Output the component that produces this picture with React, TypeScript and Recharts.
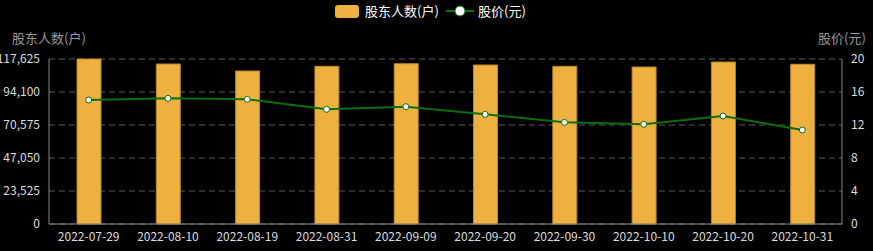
import {
  ComposedChart,
  Bar,
  Line,
  XAxis,
  YAxis,
  CartesianGrid,
} from 'recharts'

const dates = [
  '2022-07-29',
  '2022-08-10',
  '2022-08-19',
  '2022-08-31',
  '2022-09-09',
  '2022-09-20',
  '2022-09-30',
  '2022-10-10',
  '2022-10-20',
  '2022-10-31',
]
const holders = [117625, 114060, 109070, 112420, 114280, 113350, 112420, 111920, 115490, 113850]
const prices = [15.03, 15.23, 15.11, 13.9, 14.22, 13.29, 12.32, 12.08, 13.09, 11.39]
const leftTicks = [0, 23525, 47050, 70575, 94100, 117625]
const rightTicks = [0, 4, 8, 12, 16, 20]

const FONT = '"Noto Sans CJK SC", "DejaVu Sans", sans-serif'
const BAR_COLOR = '#eeb03f'
const LINE_COLOR = '#0d6e0d'

const chartData = dates.map((date, i) => ({
  date,
  holders: holders[i],
  price: prices[i],
}))

const tickStyle = { fill: '#dddddd', fontSize: 12, fontFamily: FONT }

export default function App() {
  return (
    <div style={{ position: 'relative', width: 873, height: 251, background: '#000', fontFamily: FONT }}>
      <style>{'body{margin:0;background:#000}'}</style>

      {/* legend */}
      <div style={{ position: 'absolute', left: 335, top: 5, width: 24, height: 13, background: BAR_COLOR, borderRadius: 3 }} />
      <div style={{ position: 'absolute', left: 365, top: 2, fontSize: 13, color: '#fff', lineHeight: '18px' }}>股东人数(户)</div>
      <svg style={{ position: 'absolute', left: 446, top: 4 }} width={28} height={14}>
        <line x1={0} y1={7} x2={28} y2={7} stroke={LINE_COLOR} strokeWidth={2} />
        <circle cx={14} cy={7} r={5} fill="#fff" stroke={LINE_COLOR} strokeWidth={1} />
      </svg>
      <div style={{ position: 'absolute', left: 478, top: 2, fontSize: 13, color: '#fff', lineHeight: '18px' }}>股价(元)</div>

      {/* axis titles */}
      <div style={{ position: 'absolute', left: 12, top: 29, fontSize: 13, color: '#999', lineHeight: '18px' }}>股东人数(户)</div>
      <div style={{ position: 'absolute', left: 818, top: 29, fontSize: 13, color: '#999', lineHeight: '18px' }}>股价(元)</div>

      <ComposedChart
        width={873}
        height={251}
        data={chartData}
        margin={{ top: 59, right: 0, bottom: 0, left: 0 }}
        style={{ position: 'absolute', left: 0, top: 0 }}
      >
        <CartesianGrid vertical={false} stroke="#5a5a5a" strokeDasharray="6 4" yAxisId="left" />
        <XAxis
          dataKey="date"
          stroke="#888"
          tickLine={false}
          tickSize={0}
          tickMargin={8}
          tick={tickStyle}
          height={27}
          interval={0}
        />
        <YAxis
          yAxisId="left"
          domain={[0, 117625]}
          ticks={leftTicks}
          stroke="#888"
          tickLine={false}
          tickSize={0}
          tickMargin={9}
          tick={tickStyle}
          width={49}
          tickFormatter={(v: number) => v.toLocaleString('en-US')}
        />
        <YAxis
          yAxisId="right"
          orientation="right"
          domain={[0, 20]}
          ticks={rightTicks}
          stroke="#888"
          tickLine={false}
          tickSize={0}
          tickMargin={9}
          tick={tickStyle}
          width={31}
        />
        <Bar
          yAxisId="left"
          dataKey="holders"
          fill={BAR_COLOR}
          stroke="#b8862e"
          strokeWidth={1}
          barSize={24}
          isAnimationActive={false}
        />
        <Line
          yAxisId="right"
          dataKey="price"
          type="linear"
          stroke={LINE_COLOR}
          strokeWidth={2}
          dot={{ r: 3, fill: '#fff', stroke: LINE_COLOR, strokeWidth: 1 }}
          isAnimationActive={false}
        />
      </ComposedChart>
    </div>
  )
}
